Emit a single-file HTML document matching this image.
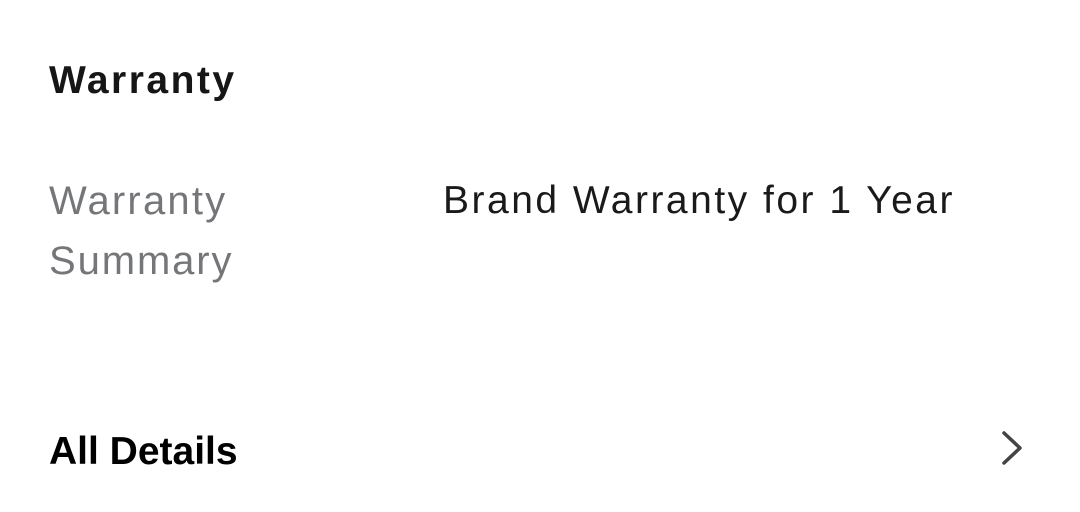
<!DOCTYPE html>
<html><head><style>
body{margin:0;width:1080px;height:512px;background:#fff;position:relative;overflow:hidden;font-family:"Liberation Sans",sans-serif}
.t{position:absolute;white-space:nowrap;line-height:1}
</style></head><body>
<div class="t" style="left:49px;top:61px;font-size:39px;font-weight:bold;color:#161616;letter-spacing:2.5px">Warranty</div>
<div class="t" style="left:49px;top:181px;font-size:40px;color:#74767a;letter-spacing:2.2px">Warranty</div>
<div class="t" style="left:49px;top:241px;font-size:40px;color:#74767a;letter-spacing:1.9px">Summary</div>
<div class="t" style="left:443px;top:181px;font-size:39px;color:#1a1a1a;letter-spacing:2.5px">Brand Warranty for 1 Year</div>
<div class="t" style="left:49px;top:432px;font-size:39px;font-weight:bold;color:#000;">All Details</div>
<svg style="position:absolute;left:995px;top:428px" width="40" height="42"><polyline points="9,5 25,20 9,35" fill="none" stroke="#444" stroke-width="3.5" stroke-linecap="round" stroke-linejoin="round"/></svg>
</body></html>
